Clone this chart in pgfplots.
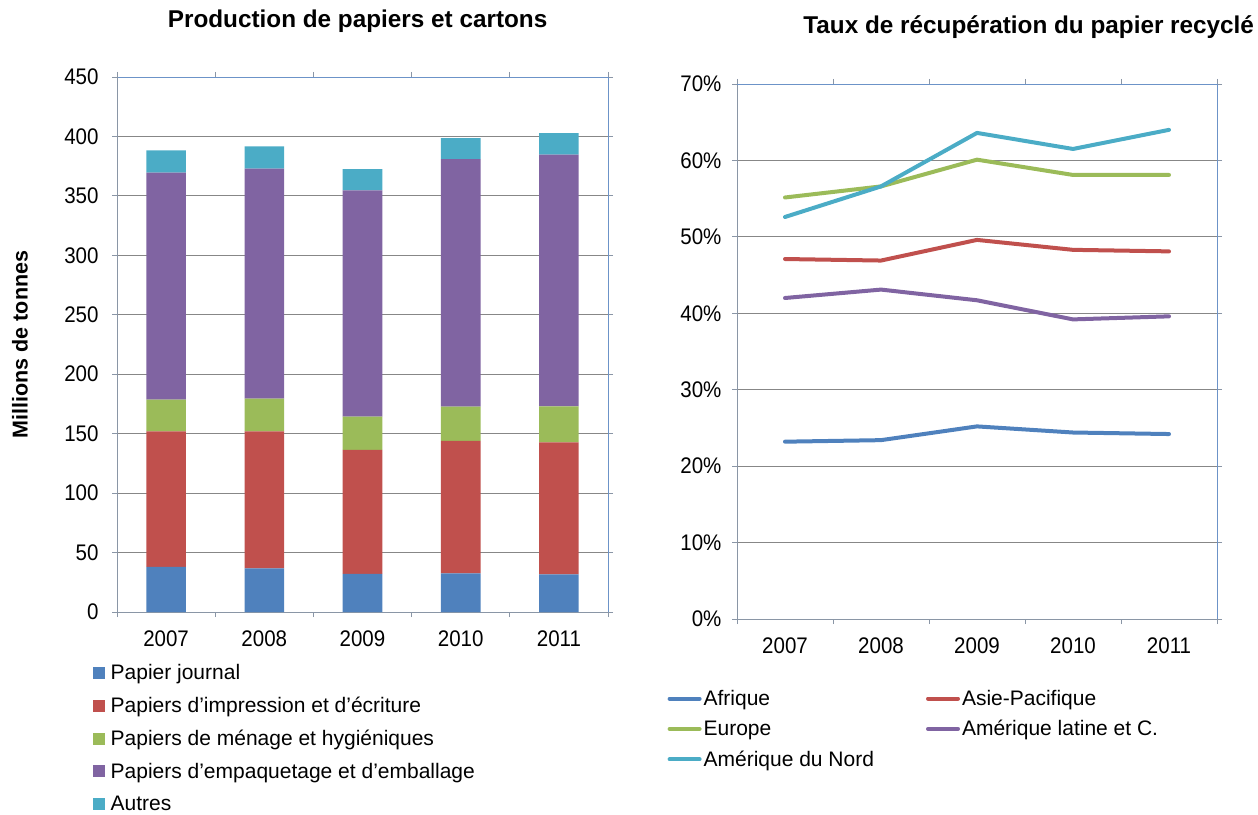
\documentclass[border=0pt]{standalone}
\usepackage{pgfplots}
\pgfplotsset{compat=1.18}
\usepackage{pgfplotstable}
\usepackage{fontspec}
\setmainfont{Liberation Sans}
\definecolor{cBlue}{HTML}{4F81BD}
\definecolor{cRed}{HTML}{C0504D}
\definecolor{cGreen}{HTML}{9BBB59}
\definecolor{cPurple}{HTML}{8064A2}
\definecolor{cCyan}{HTML}{4BACC6}
\definecolor{gridgray}{HTML}{878787}
\definecolor{axisgray}{HTML}{8A96A6}
\definecolor{frameblue}{HTML}{6C93C8}

\pgfplotstableread{
x journal impression menage emballage autres
1 38.0 114.0 26.6 191.0 18.6
2 36.6 115.4 27.4 193.6 18.7
3 32.0 104.3 28.0 190.4 17.8
4 32.4 111.6 28.7 208.3 17.6
5 31.6 111.0 30.4 211.7 18.1
}\prodtable

\pgfplotstableread{
x afrique asie europe latine nord
1 23.2 47.1 55.15 42.0 52.6
2 23.4 46.9 56.6 43.1 56.6
3 25.2 49.6 60.1 41.7 63.6
4 24.4 48.3 58.1 39.2 61.5
5 24.2 48.1 58.1 39.6 64.0
}\tauxtable

\pgfplotsset{
  common/.style={
    scale only axis,
    anchor=south west,
    xmin=0.5, xmax=5.5,
    xtick={1,2,3,4,5},
    xticklabels={2007,2008,2009,2010,2011},
    minor xtick={0.5,1.5,2.5,3.5,4.5,5.5},
    tick align=outside,
    major tick length=5pt,
    minor tick length=5pt,
    x tick style={draw=none},
    minor x tick style={draw=axisgray, line width=0.8pt},
    y tick style={draw=axisgray, line width=0.8pt},
    ymajorgrids,
    grid style={draw=gridgray, line width=0.8pt},
    axis line style={draw=none},
    tick label style={font=\fontsize{20.5}{24}\selectfont, yscale=1.1},
    /pgf/number format/assume math mode=true,
    xticklabel style={yshift=-9pt},
    clip=false,
  }
}

\begin{document}
\begin{tikzpicture}[x=1pt,y=1pt]
\useasboundingbox (0,0) rectangle (1258,814);

% ---------- Left chart ----------
\begin{axis}[
  common,
  at={(117pt,202pt)},
  width=491pt, height=535pt,
  ybar stacked,
  bar width=39.6pt,
  ymin=0, ymax=450,
  ytick={0,50,...,450},
  yticklabel style={xshift=-10pt},
  title={\bfseries Production de papiers et cartons},
  title style={font=\fontsize{24.3}{28}\selectfont, at={(axis description cs:0.49,1.0935)}, anchor=center},
  ylabel={\bfseries Millions de tonnes},
  ylabel style={font=\fontsize{21.5}{25}\selectfont, at={(axis description cs:-0.1975,0.5)}, anchor=center},
  legend style={draw=none, fill=none, at={(axis description cs:-0.050,-0.094)}, anchor=north west,
    font=\fontsize{21}{25}\selectfont, row sep=12pt, inner sep=0pt,
    nodes={inner sep=2pt},
    /tikz/every odd column/.append style={column sep=4pt}},
  legend cell align=left,
  legend image code/.code={\fill[#1] (0pt,-6pt) rectangle (12pt,6pt);},
]
\addplot[fill=cBlue, draw=none] table[x=x, y=journal] {\prodtable};
\addlegendentry{Papier journal}
\addplot[fill=cRed, draw=none] table[x=x, y=impression] {\prodtable};
\addlegendentry{Papiers d’impression et d’écriture}
\addplot[fill=cGreen, draw=none] table[x=x, y=menage] {\prodtable};
\addlegendentry{Papiers de ménage et hygiéniques}
\addplot[fill=cPurple, draw=none] table[x=x, y=emballage] {\prodtable};
\addlegendentry{Papiers d’empaquetage et d’emballage}
\addplot[fill=cCyan, draw=none] table[x=x, y=autres] {\prodtable};
\addlegendentry{Autres}
\draw[axisgray, line width=0.9pt] (rel axis cs:0,1) -- (rel axis cs:0,0) -- (rel axis cs:1,0);
\draw[frameblue, line width=0.9pt] (rel axis cs:0,1) -- (rel axis cs:1,1) -- (rel axis cs:1,0);
\end{axis}

% ---------- Right chart ----------
\begin{axis}[
  common,
  at={(737pt,195pt)},
  width=480pt, height=535pt,
  ymin=0, ymax=70,
  ytick={0,10,...,70},
  yticklabel={\pgfmathprintnumber{\tick}\%},
  yticklabel style={xshift=-7pt},
  title={\bfseries Taux de récupération du papier recyclé},
  title style={font=\fontsize{24.3}{28}\selectfont, at={(axis description cs:0.131,1.0953)}, anchor=west},
  legend columns=2,
  legend style={draw=none, fill=none, at={(axis description cs:-0.145,-0.129)}, anchor=north west,
    font=\fontsize{21}{25}\selectfont, row sep=9.5pt, inner sep=0pt,
    nodes={inner sep=2pt},
    /tikz/every even column/.append style={column sep=50pt}},
  legend cell align=left,
  legend image code/.code={\draw[#1] (0pt,0pt) -- (30pt,0pt);},
]
\addplot[cBlue, line width=4pt, line join=round, line cap=round] table[x=x, y=afrique] {\tauxtable};
\addlegendentry{Afrique}
\addplot[cRed, line width=4pt, line join=round, line cap=round] table[x=x, y=asie] {\tauxtable};
\addlegendentry{Asie-Pacifique}
\addplot[cGreen, line width=4pt, line join=round, line cap=round] table[x=x, y=europe] {\tauxtable};
\addlegendentry{Europe}
\addplot[cPurple, line width=4pt, line join=round, line cap=round] table[x=x, y=latine] {\tauxtable};
\addlegendentry{Amérique latine et C.}
\addplot[cCyan, line width=4pt, line join=round, line cap=round] table[x=x, y=nord] {\tauxtable};
\addlegendentry{Amérique du Nord}
\draw[axisgray, line width=0.9pt] (rel axis cs:0,1) -- (rel axis cs:0,0) -- (rel axis cs:1,0);
\draw[frameblue, line width=0.9pt] (rel axis cs:0,1) -- (rel axis cs:1,1) -- (rel axis cs:1,0);
\end{axis}
\end{tikzpicture}
\end{document}
